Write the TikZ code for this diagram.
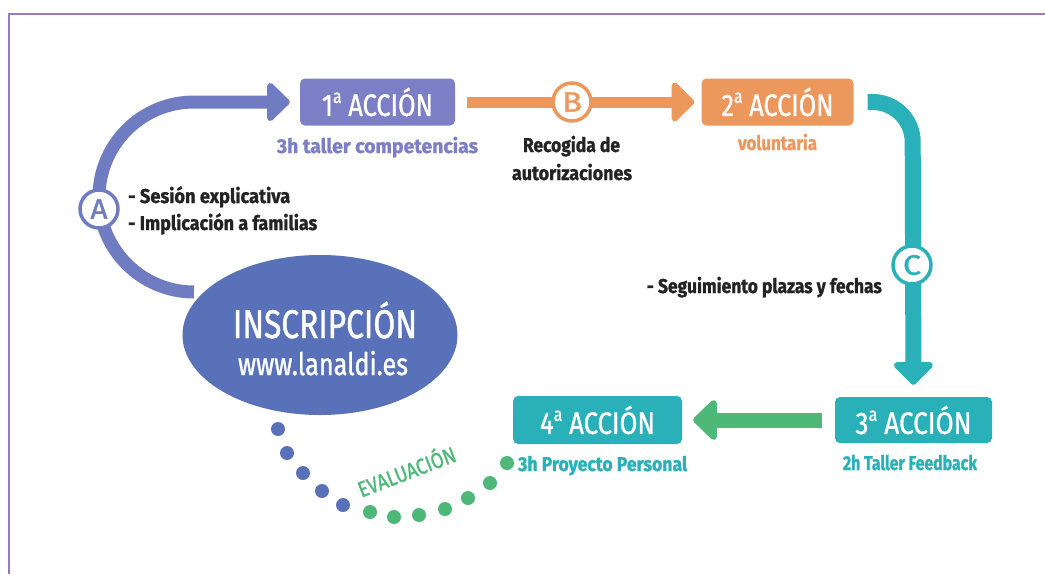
\documentclass[tikz,border=0pt]{standalone}
\usepackage{fontspec}
\setmainfont{Fira Sans}[FakeBold=1.2]
\usetikzlibrary{arrows.meta,shapes.geometric}
\definecolor{cpurp}{RGB}{124,127,197}
\definecolor{carc}{RGB}{112,124,194}
\definecolor{cblue}{RGB}{88,113,185}
\definecolor{corange}{RGB}{236,152,92}
\definecolor{cteal}{RGB}{42,176,184}
\definecolor{cgreen}{RGB}{77,184,119}
\definecolor{cframe}{RGB}{150,120,195}
\definecolor{ctext}{RGB}{35,35,35}
\newcommand\fw[2]{\resizebox{#1pt}{\height}{#2}}
\newcommand\supa{\raisebox{0.42em}{\scalebox{0.62}{a}}}
\tikzset{
  actbox/.style={rounded corners=5pt, text=white, inner sep=0pt,
    font=\fontsize{31}{31}\selectfont},
  lab/.style={inner sep=0pt, font=\fontsize{20}{24}\selectfont\bfseries},
  ring/.style={circle, fill=white, line width=3.5pt, inner sep=0pt,
    minimum size=38pt, font=\fontsize{28}{28}\selectfont},
  dotb/.style={circle, fill=cblue, inner sep=0pt, minimum size=14pt},
  dotg/.style={circle, fill=cgreen, inner sep=0pt, minimum size=14pt},
}
\begin{document}
\begin{tikzpicture}[x=1pt,y=-1pt]
\useasboundingbox (0,0) rectangle (1045,574);
\fill[white] (0,0) rectangle (1045,574);
\draw[cframe,line width=2.5pt] (9,574) -- (9,14) -- (1045,14);

% action boxes
\node[actbox, fill=cpurp, minimum width=155pt, minimum height=47pt] (a1) at (377.5,102) {\fw{111}{1\supa\ ACCIÓN}};
\node[actbox, fill=corange, minimum width=152pt, minimum height=47pt] (a2) at (777.5,102) {\fw{112}{2\supa\ ACCIÓN}};
\node[actbox, fill=cteal, minimum width=157pt, minimum height=46pt] (a3) at (913.5,420) {\fw{116}{3\supa\ ACCIÓN}};
\node[actbox, fill=cteal, minimum width=169pt, minimum height=48pt] (a4) at (597.5,420) {\fw{115}{4\supa\ ACCIÓN}};

% connectors
\coordinate (aS) at (194,292);
\draw[carc, line width=13pt, -{Triangle[length=24pt,width=45pt,round]}, shorten >=10pt]
  (aS) arc[start angle=90, end angle=270, radius=95] -- (a1.west);
\draw[corange, line width=11pt, -{Triangle[length=24pt,width=46pt,round]}]
  ([xshift=12pt]a1.east) -- ([xshift=-7pt]a2.west);
\draw[cteal, line width=16pt, -{Triangle[length=24pt,width=46pt,round]}, shorten >=12pt]
  ([xshift=14pt]a2.east) -- ++(5,0) arc[start angle=270, end angle=360, radius=40] -- (a3.north);
\draw[cgreen, line width=15pt, -{Triangle[length=25pt,width=47pt,round]}]
  ([xshift=-13pt]a3.west) -- ([xshift=11pt]a4.east);

% rings
\node[ring, draw=carc, text=carc] (rA) at (99,209) {\fw{17}{A}};
\node[ring, draw=corange, text=corange] (rB) at (572,102) {\fw{20}{B}};
\node[ring, draw=cteal, text=cteal] (rC) at (912,265) {\fw{18}{C}};

% ellipse
\node[ellipse, fill=cblue, minimum width=275pt, minimum height=160pt, inner sep=0pt] (ins) at (320,335) {};
\node[inner sep=0pt, anchor=base, text=white, font=\fontsize{40}{40}\selectfont] (insT) at (325,338) {\fw{184}{INSCRIPCIÓN}};
\node[inner sep=0pt, anchor=base, text=white, font=\fontsize{31}{31}\selectfont] (insW) at (323,375) {\fw{170}{www.lanaldi.es}};

% labels
\node[lab, anchor=base, text=cpurp] (l1) at (377.5,153) {\fw{201}{3h taller competencias}};
\node[lab, anchor=base, text=ctext] (lB1) at (571.5,152) {\fw{97}{Recogida de}};
\node[lab, anchor=base, text=ctext] (lB2) at (572,180) {\fw{120}{autorizaciones}};
\node[lab, anchor=base, text=corange] (l2) at (777.5,150) {\fw{79}{voluntaria}};
\node[lab, anchor=base west, text=ctext] (lA1) at (128,203) {\fw{162}{- Sesión explicativa}};
\node[lab, anchor=base west, text=ctext] (lA2) at (128,230) {\fw{189}{- Implicación a familias}};
\node[lab, anchor=base east, text=ctext] (lC) at (882,293) {\fw{235}{- Seguimiento plazas y fechas}};
\node[lab, anchor=base, text=cteal] (l3) at (910,470) {\fw{134}{2h Taller Feedback}};
\node[lab, anchor=base west, text=cteal] (l4) at (518,471) {\fw{169}{3h Proyecto Personal}};
\node[inner sep=0pt, text=cgreen, rotate=21, font=\fontsize{22}{22}\selectfont] (ev) at (406,470) {\fw{103}{EVALUACIÓN}};

% dots
\foreach \p [count=\i] in {(278,429),(287,453),(303,473),(322,491),(343,505)}
  \node[dotb] (db\i) at \p {};
\foreach \p [count=\i] in {(370,512),(394,517),(419,515),(445,509),(468,498),(490,483),(507,463)}
  \node[dotg] (dg\i) at \p {};
\end{tikzpicture}
\end{document}
